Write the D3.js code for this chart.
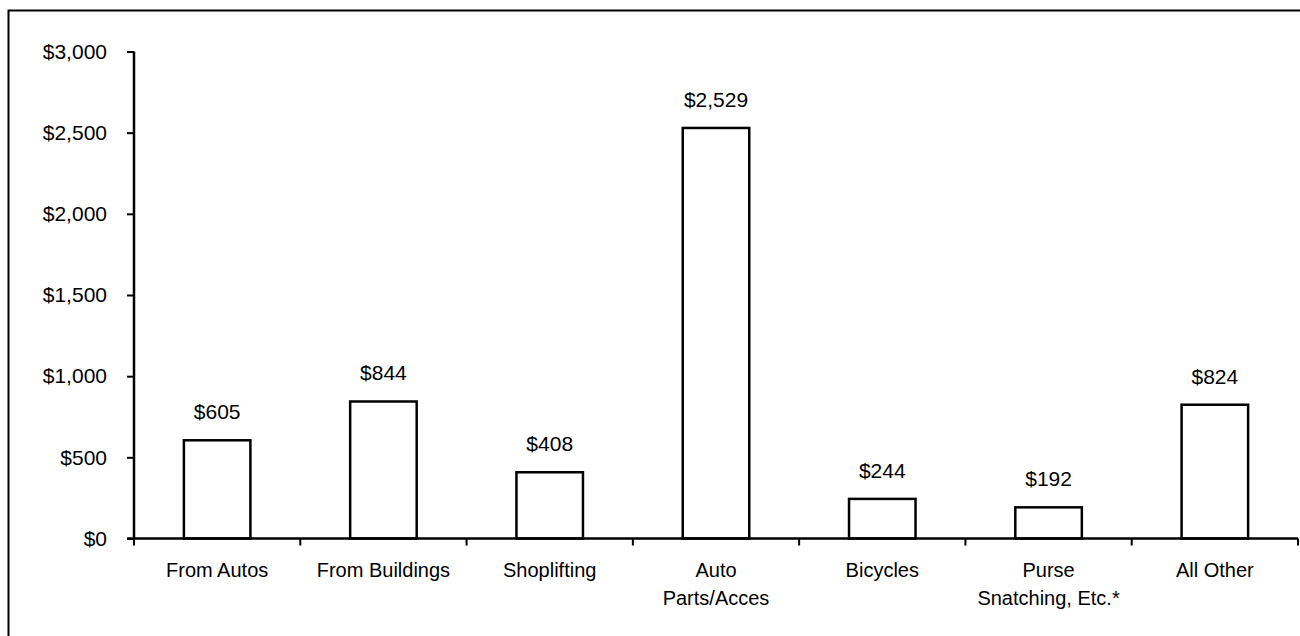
<!DOCTYPE html>
<html>
<head>
<meta charset="utf-8">
<script src="https://cdn.jsdelivr.net/npm/d3@7"></script>
<style>
  body { margin: 0; background: #fff; }
  text { font-family: "Liberation Sans", Arial, sans-serif; fill: #000; }
</style>
</head>
<body>
<svg></svg>
<script>
var categories = [["From Autos"], ["From Buildings"], ["Shoplifting"], ["Auto", "Parts/Acces"], ["Bicycles"], ["Purse", "Snatching, Etc.*"], ["All Other"]];
var values = [605, 844, 408, 2529, 244, 192, 824];
var yTicks = [0, 500, 1000, 1500, 2000, 2500, 3000];

var width = 1300;
var height = 636;
var svg = d3.select('svg')
			.attr("width", width)
			.attr("height", height);

var padding = {
	top: 51.5,
	bottom: 538.5,
	left: 134,
	right: 1298
}

// outer frame (runs off the right and bottom edges)
svg.append("path")
   .attr("d", "M8.5," + (height + 5) + " L8.5,10.5 L" + (width + 5) + ",10.5")
   .attr("fill", "none")
   .attr("stroke", "#000")
   .attr("stroke-width", 2);

var data = categories.map(function(c, i){ return {name: c.join(" "), lines: c, value: values[i]}; });

var xScale = d3.scaleBand()
			.domain(data.map(d => d.name))
			.range([padding.left, padding.right])
			.paddingInner(0.6)
			.paddingOuter(0.3);

var xBand = d3.scaleBand()
			.domain(data.map(d => d.name))
			.range([padding.left, padding.right]);

var yScale = d3.scaleLinear()
			.domain([0, 3000])
			.range([padding.bottom, padding.top]);

// bars
svg.selectAll("rect.bar")
	.data(data)
	.enter()
	.append("rect")
	.attr("class", "bar")
	.attr("x", d => xScale(d.name))
	.attr("y", d => yScale(d.value))
	.attr("width", xScale.bandwidth())
	.attr("height", d => yScale(0) - yScale(d.value))
	.attr("fill", "#fff")
	.attr("stroke", "#000")
	.attr("stroke-width", 2.5);

// value labels
svg.selectAll("text.val")
	.data(data)
	.enter()
	.append("text")
	.attr("class", "val")
	.attr("x", d => xScale(d.name) + xScale.bandwidth() / 2)
	.attr("y", d => yScale(d.value) - 21)
	.attr("text-anchor", "middle")
	.style("font-size", "21px")
	.text(d => "$" + d3.format(",")(d.value));

//y-axis
var yAxis = svg.append('g')
   .attr("class", "y-axis")
   .attr("transform", "translate(" + padding.left + ",0)")
   .call(d3.axisLeft(yScale).tickValues(yTicks).tickSize(7).tickPadding(20)
   		.tickFormat(d => "$" + d3.format(",")(d)));
yAxis.select(".domain").attr("stroke-width", 2.5).attr("d", "M0," + padding.top + "V" + padding.bottom);
yAxis.selectAll(".tick line").attr("stroke-width", 2);
yAxis.selectAll("text").style("font-size", "21px").style("font-family", "Liberation Sans, Arial, sans-serif");

//x-axis
var xAxis = svg.append('g')
   .attr("class", "x-axis")
   .attr("transform", "translate(0," + padding.bottom + ")");
xAxis.append("line")
	.attr("x1", padding.left - 7).attr("x2", padding.right)
	.attr("stroke", "#000").attr("stroke-width", 2.5);
xAxis.selectAll("line.tk")
	.data(data.map(d => d.name).slice(1).concat(["__end"]))
	.enter()
	.append("line")
	.attr("class", "tk")
	.attr("x1", d => d === "__end" ? padding.right : xBand(d))
	.attr("x2", d => d === "__end" ? padding.right : xBand(d))
	.attr("y1", 0).attr("y2", 7)
	.attr("stroke", "#000").attr("stroke-width", 2);
xAxis.append("line")
	.attr("x1", padding.left).attr("x2", padding.left)
	.attr("y1", 0).attr("y2", 7)
	.attr("stroke", "#000").attr("stroke-width", 2);

var catLabels = xAxis.selectAll("text.cat")
	.data(data)
	.enter()
	.append("text")
	.attr("class", "cat")
	.attr("text-anchor", "middle")
	.attr("x", d => xBand(d.name) + xBand.bandwidth() / 2)
	.attr("y", 38.5)
	.style("font-size", "20px");
catLabels.selectAll("tspan")
	.data(d => d.lines.map(l => ({l: l, x: xBand(d.name) + xBand.bandwidth() / 2})))
	.enter()
	.append("tspan")
	.attr("x", t => t.x)
	.attr("dy", (t, i) => i === 0 ? 0 : 27.5)
	.text(t => t.l);
</script>
</body>
</html>
